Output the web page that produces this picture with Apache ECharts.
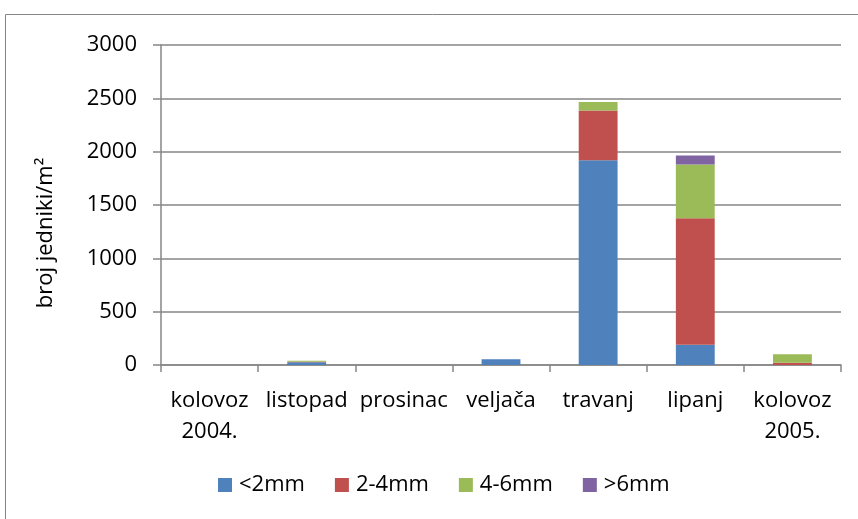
<!DOCTYPE html>
<html>
<head>
<meta charset="utf-8">
<script src="https://cdn.jsdelivr.net/npm/echarts@6/dist/echarts.min.js"></script>
<style>
html, body { margin: 0; padding: 0; background: #fff; }
#chart { width: 858px; height: 519px; }
</style>
</head>
<body>
<div id="chart"></div>
<script>
var categories = ['kolovoz\n2004.', 'listopad', 'prosinac', 'veljača', 'travanj', 'lipanj', 'kolovoz\n2005.'];
var seriesNames = ['<2mm', '2-4mm', '4-6mm', '>6mm'];
var below2 = [0, 25, 0, 55, 1920, 190, 0];
var from2to4 = [0, 5, 0, 0, 465, 1185, 20];
var from4to6 = [0, 10, 0, 0, 80, 505, 80];
var above6 = [0, 0, 0, 0, 0, 85, 0];
var yTicks = { min: 0, max: 3000, interval: 500 };

var colors = ['#4F81BD', '#C0504D', '#9BBB59', '#8064A2'];
var values = [below2, from2to4, from4to6, above6];
var font = 'Open Sans';

var myChart = echarts.init(document.getElementById('chart'));
var option = {
    animation: false,
    color: colors,
    textStyle: { fontFamily: font },
    graphic: [
        {
            type: 'rect',
            shape: { x: 5.5, y: 14.5, width: 900, height: 600 },
            style: { fill: 'none', stroke: '#868686', lineWidth: 1 }
        }
    ],
    grid: {
        left: 161,
        right: 17,
        top: 45,
        bottom: 154
    },
    legend: {
        data: seriesNames,
        bottom: 18,
        left: 213,
        itemWidth: 14,
        itemHeight: 14,
        itemGap: 30,
        icon: 'rect',
        textStyle: { fontSize: 22, color: '#000', fontFamily: font, padding: [0, 0, 0, 2] }
    },
    xAxis: {
        type: 'category',
        data: categories,
        axisLine: { lineStyle: { color: '#868686', width: 1.5 } },
        axisTick: { show: true, length: 7, alignWithLabel: false, lineStyle: { color: '#868686', width: 1.5 } },
        axisLabel: {
            interval: 0,
            color: '#000',
            fontSize: 22,
            lineHeight: 31,
            margin: 20,
            fontFamily: font
        }
    },
    yAxis: {
        type: 'value',
        min: yTicks.min,
        max: yTicks.max,
        interval: yTicks.interval,
        name: 'broj jedniki/m²',
        nameLocation: 'middle',
        nameGap: 104,
        nameTextStyle: { fontSize: 22, color: '#000', fontFamily: font, padding: [0, 56, 0, 0] },
        axisLine: { show: true, lineStyle: { color: '#868686', width: 1.5 } },
        axisTick: { show: true, length: 8, lineStyle: { color: '#868686', width: 1.5 } },
        axisLabel: {
            color: '#000',
            fontSize: 22,
            margin: 24,
            fontFamily: font,
            formatter: function (v) { return String(v); }
        },
        splitLine: { lineStyle: { color: '#868686', width: 1.5 } }
    },
    series: seriesNames.map(function (name, i) {
        return {
            name: name,
            type: 'bar',
            stack: 'total',
            barWidth: '40%',
            data: values[i],
            itemStyle: { color: colors[i] }
        };
    })
};
myChart.setOption(option);
</script>
</body>
</html>
